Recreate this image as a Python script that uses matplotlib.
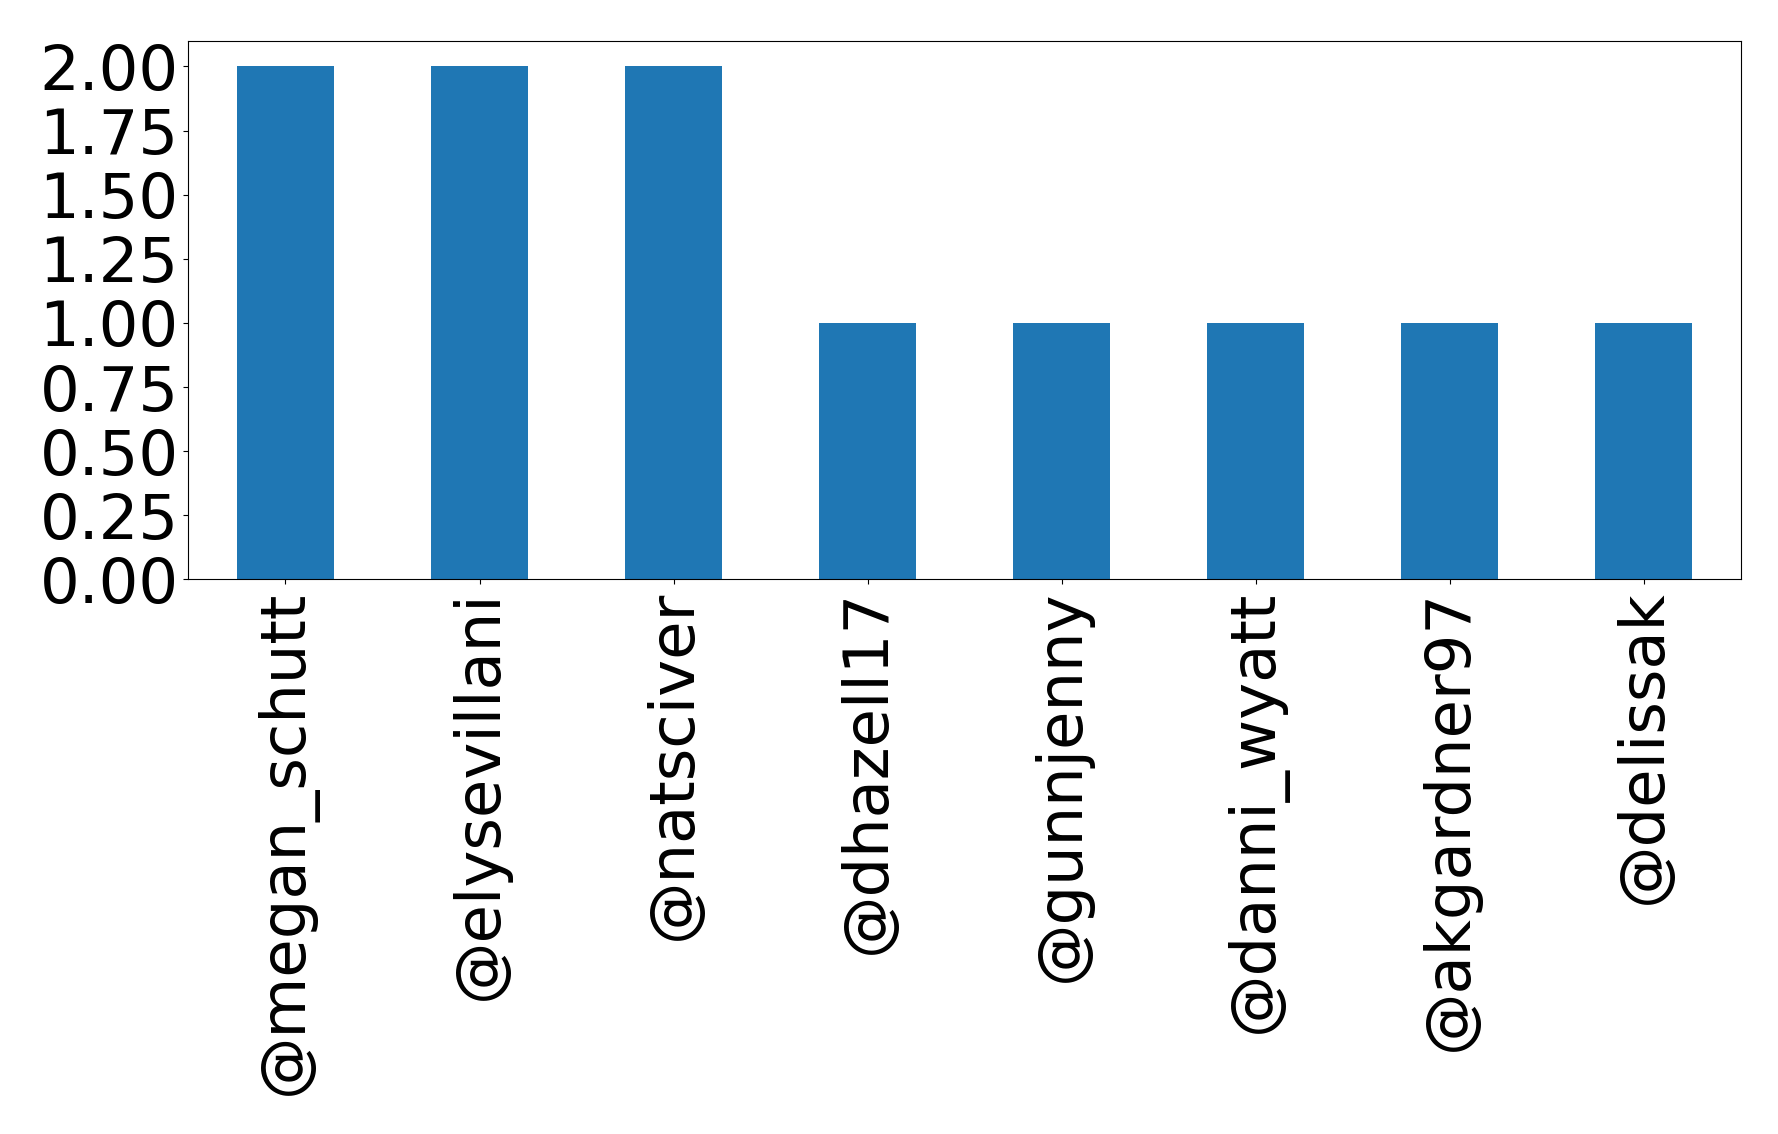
import matplotlib
matplotlib.use("Agg")
import matplotlib.pyplot as plt
import pandas as pd

# mention counts per user
usernames = ["@megan_schutt", "@elysevillani", "@natsciver", "@dhazell17",
             "@gunnjenny", "@danni_wyatt", "@akgardner97", "@delissak"]
counts = [2, 2, 2, 1, 1, 1, 1, 1]

series = pd.Series(counts, index=usernames)

fig = plt.figure(figsize=(17.78, 11.34), dpi=100)
ax = fig.add_subplot(111)
series.plot(kind="bar", ax=ax, fontsize=45)
ax.set_yticks([0, 0.25, 0.5, 0.75, 1.0, 1.25, 1.5, 1.75, 2.0])
ax.set_yticklabels(["%.2f" % v for v in ax.get_yticks()])
ax.tick_params(axis="both", labelsize=45)

fig.subplots_adjust(left=0.106, right=0.979, top=0.964, bottom=0.489)
fig.savefig("out.png")
